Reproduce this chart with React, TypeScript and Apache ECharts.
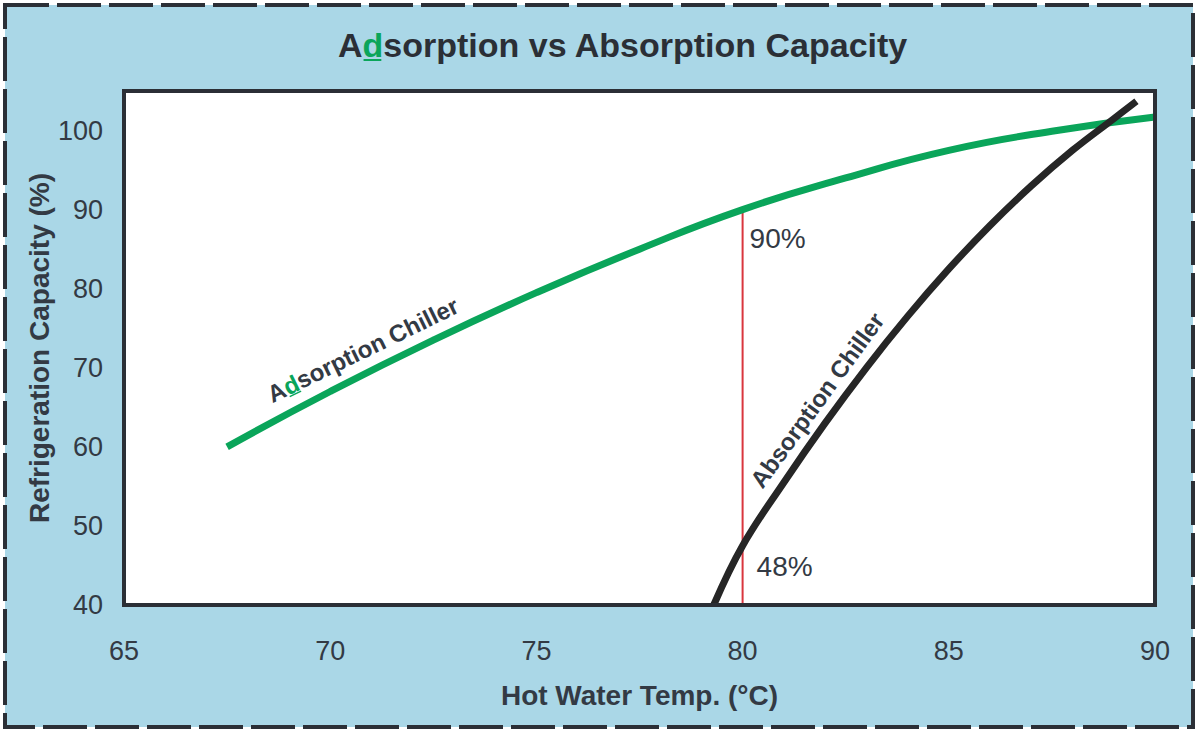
import React, { useEffect, useRef } from "react";
import * as echarts from "echarts";

// ---- data ----
const adsorptionTemp = [67.5, 70, 72.5, 75, 77.5, 80, 82.5, 85, 87.5, 90];
const adsorptionCap = [60, 67, 73.5, 79.5, 85, 90, 94, 97.5, 99.9, 101.7];
const absorptionTemp = [79.3, 80, 81, 82, 83, 84, 85, 86, 87, 88, 89, 89.55];
const absorptionCap = [40, 47.5, 55.5, 63, 70, 76.5, 82.5, 88, 93, 97.5, 101.5, 103.7];
const markerTemp = 80;
const markerAdsorption = 90;
const markerAbsorption = 48;
const xRange = [65, 90];
const yRange = [40, 105];

const FONT = '"Liberation Sans", Arial, Helvetica, sans-serif';
const DARK = "#2b2f36";
const TEXT = "#333a44";
const GREEN = "#0aa55a";
const BLACK = "#262626";
const RED = "#d9363e";
const BLUE = "#aad7e7";

export default function App() {
  const ref = useRef<HTMLDivElement>(null);
  useEffect(() => {
    const chart = echarts.init(ref.current!, null, { renderer: "svg" });
    const toPairs = (xs: number[], ys: number[]) => xs.map((x, i) => [x, ys[i]]);
    chart.setOption({
      animation: false,
      backgroundColor: "#ffffff",
      grid: {
        left: 124,
        top: 91,
        right: 46,
        bottom: 126,
        show: true,
        backgroundColor: "#ffffff",
        borderWidth: 0,
        z: 1,
      },
      xAxis: {
        type: "value",
        min: xRange[0],
        max: xRange[1],
        interval: 5,
        name: "Hot Water Temp. (°C)",
        nameLocation: "middle",
        nameGap: 76,
        nameMoveOverlap: false,
        nameTextStyle: { fontFamily: FONT, fontSize: 28, fontWeight: "bold", color: TEXT },
        axisLine: { show: false },
        axisTick: { show: false },
        splitLine: { show: false },
        axisLabel: { margin: 32, fontFamily: FONT, fontSize: 27, color: TEXT },
      },
      yAxis: {
        type: "value",
        min: yRange[0],
        max: yRange[1],
        interval: 10,
        name: "Refrigeration Capacity (%)",
        nameLocation: "middle",
        nameGap: 71,
        nameMoveOverlap: false,
        nameTextStyle: { fontFamily: FONT, fontSize: 28, fontWeight: "bold", color: TEXT },
        axisLine: { show: false },
        axisTick: { show: false },
        splitLine: { show: true, lineStyle: { color: "#b0b0b0", width: 2 } },
        axisLabel: {
          margin: 21,
          fontFamily: FONT,
          fontSize: 27,
          color: TEXT,
          showMaxLabel: false,
          formatter: (v: number) => (v > 100 ? "" : String(v)),
        },
      },
      series: [
        {
          type: "line",
          data: [
            [markerTemp, yRange[0]],
            [markerTemp, markerAdsorption],
          ],
          symbol: "none",
          lineStyle: { color: RED, width: 2 },
          z: 2,
        },
        {
          type: "line",
          data: toPairs(adsorptionTemp, adsorptionCap),
          smooth: true,
          symbol: "none",
          lineStyle: { color: GREEN, width: 7, cap: "butt" },
          z: 3,
        },
        {
          type: "line",
          data: toPairs(absorptionTemp, absorptionCap),
          smooth: 0.4,
          symbol: "none",
          lineStyle: { color: BLACK, width: 7, cap: "butt" },
          z: 4,
        },
      ],
    });

    const p = (x: number, y: number) => chart.convertToPixel({ gridIndex: 0 }, [x, y]) as number[];
    const tl = p(xRange[0], yRange[1]);
    const br = p(xRange[1], yRange[0]);
    const m90 = p(markerTemp, markerAdsorption);
    const m48 = p(markerTemp, markerAbsorption);
    const adsLbl = p(68.64, 65.1);
    const absLbl = p(80.55, 54.3);
    const TS = 34;
    const LS = 24;
    const deg = Math.PI / 180;
    const adsRot = 26 * deg;
    const absRot = 54 * deg;

    chart.setOption({
      graphic: [
        {
          id: "outer",
          type: "rect",
          z: -100,
          silent: true,
          shape: { x: 5, y: 5, width: 1188, height: 722 },
          style: { fill: BLUE, stroke: DARK, lineWidth: 4, lineDash: [44, 8] },
        },
        {
          id: "plotBorder",
          type: "rect",
          z: 100,
          silent: true,
          shape: { x: tl[0], y: tl[1], width: br[0] - tl[0], height: br[1] - tl[1] },
          style: { fill: "none", stroke: DARK, lineWidth: 4 },
        },
        {
          id: "titleText",
          type: "text",
          x: 338,
          y: 45,
          z: 100,
          style: {
            text: "{a|A}{g|d}{a|sorption vs Absorption Capacity}",
            align: "left",
            verticalAlign: "middle",
            rich: {
              a: { fontFamily: FONT, fontSize: TS, fontWeight: "bold", fill: DARK, color: DARK },
              g: { fontFamily: FONT, fontSize: TS, fontWeight: "bold", fill: GREEN, color: GREEN },
            },
          },
        },
        {
          id: "titleUnderline",
          type: "line",
          z: 100,
          shape: { x1: 338 + 0.722 * TS + 1, y1: 60, x2: 338 + 1.333 * TS - 2, y2: 60 },
          style: { stroke: GREEN, lineWidth: 2 },
        },
        {
          id: "adsLabelText",
          type: "text",
          x: adsLbl[0],
          y: adsLbl[1],
          rotation: adsRot,
          z: 100,
          style: {
            text: "{a|A}{g|d}{a|sorption Chiller}",
            align: "left",
            verticalAlign: "bottom",
            rich: {
              a: { fontFamily: FONT, fontSize: LS, fontWeight: "bold", fill: TEXT, color: TEXT },
              g: { fontFamily: FONT, fontSize: LS, fontWeight: "bold", fill: GREEN, color: GREEN },
            },
          },
        },
        {
          id: "adsLabelUnderline",
          type: "line",
          x: adsLbl[0],
          y: adsLbl[1],
          rotation: adsRot,
          z: 100,
          shape: { x1: 0.722 * LS + 1, y1: -2, x2: 1.333 * LS - 1, y2: -2 },
          style: { stroke: GREEN, lineWidth: 1.5 },
        },
        {
          id: "absLabel",
          type: "text",
          x: absLbl[0],
          y: absLbl[1],
          rotation: absRot,
          z: 100,
          style: {
            text: "Absorption Chiller",
            align: "left",
            verticalAlign: "bottom",
            fontFamily: FONT,
            fontSize: LS,
            fontWeight: "bold",
            fill: TEXT,
          },
        },
        {
          id: "lbl90",
          type: "text",
          x: m90[0] + 7,
          y: m90[1] + 29,
          z: 100,
          style: {
            text: markerAdsorption + "%",
            align: "left",
            verticalAlign: "middle",
            fontFamily: FONT,
            fontSize: 28,
            fill: TEXT,
          },
        },
        {
          id: "lbl48",
          type: "text",
          x: m48[0] + 14,
          y: m48[1] + 25,
          z: 100,
          style: {
            text: markerAbsorption + "%",
            align: "left",
            verticalAlign: "middle",
            fontFamily: FONT,
            fontSize: 28,
            fill: TEXT,
          },
        },
      ],
    });
    return () => chart.dispose();
  }, []);
  return (
    <div
      ref={ref}
      style={{ position: "fixed", left: 0, top: 0, width: 1201, height: 731, background: "#fff" }}
    />
  );
}
